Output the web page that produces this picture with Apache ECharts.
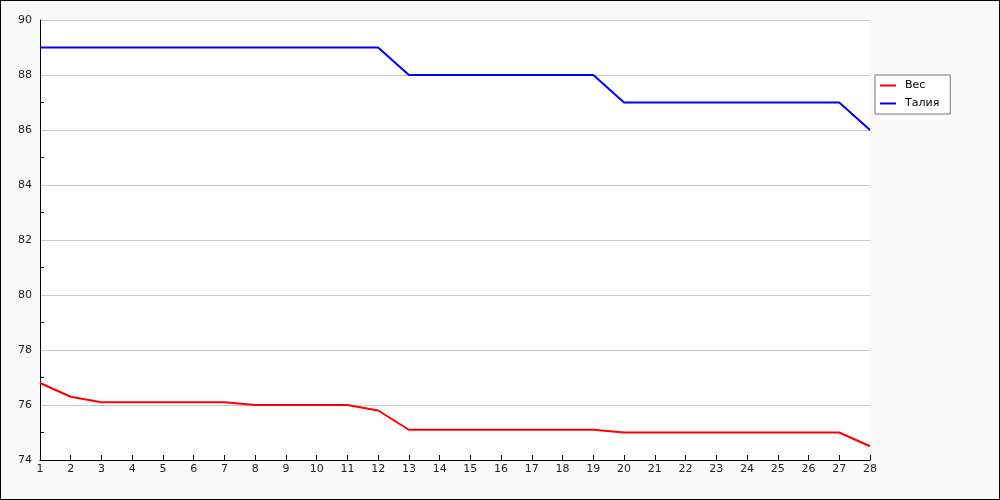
<!DOCTYPE html>
<html><head><meta charset="utf-8">
<script src="https://cdn.jsdelivr.net/npm/echarts@6/dist/echarts.min.js"></script>
<style>
html,body{margin:0;padding:0;background:#f9f9f9;}
#c{width:1000px;height:500px;box-sizing:border-box;border:1px solid #000;}
</style></head>
<body><div id="c"></div>
<script>
const days = ['1','2','3','4','5','6','7','8','9','10','11','12','13','14','15','16','17','18','19','20','21','22','23','24','25','26','27','28'];
const ves = [76.8,76.3,76.1,76.1,76.1,76.1,76.1,76.0,76.0,76.0,76.0,75.8,75.1,75.1,75.1,75.1,75.1,75.1,75.1,75.0,75.0,75.0,75.0,75.0,75.0,75.0,75.0,74.5];
const talia = [89,89,89,89,89,89,89,89,89,89,89,89,88,88,88,88,88,88,88,87,87,87,87,87,87,87,87,86];
const seriesNames = ['Вес','Талия'];

const chart = echarts.init(document.getElementById('c'));
chart.setOption({
  animation:false,
  backgroundColor:'#f9f9f9',
  grid:{left:39,right:129,top:19,bottom:39,show:true,backgroundColor:'#fff',borderWidth:0},
  legend:{
    orient:'vertical', left:874, top:74, data:seriesNames,
    backgroundColor:'#fff', borderColor:'#777', borderWidth:1, borderRadius:0,
    padding:[5,11,5,5], itemGap:7, itemWidth:16, itemHeight:2, icon:'rect',
    textStyle:{fontSize:11,color:'#000',fontFamily:'DejaVu Sans',padding:[0,0,0,4]}
  },
  xAxis:{
    type:'category', data:days, boundaryGap:false,
    axisLine:{lineStyle:{color:'#000',width:1}},
    axisTick:{inside:true,length:5,lineStyle:{color:'#000'},interval:0},
    axisLabel:{fontSize:11,color:'#222',fontFamily:'DejaVu Sans',margin:4,interval:0},
    splitLine:{show:false}
  },
  yAxis:{
    type:'value', min:74, max:90, interval:2,
    axisLine:{show:true,lineStyle:{color:'#000',width:1}},
    axisTick:{inside:true,length:5,lineStyle:{color:'#000'}},
    minorTick:{show:true,splitNumber:2,length:4,lineStyle:{color:'#000'}},
    axisLabel:{fontSize:11,color:'#222',fontFamily:'DejaVu Sans',margin:8},
    splitLine:{show:true,lineStyle:{color:'#c8c8c8',width:1}}
  },
  series:[
    {name:seriesNames[0],type:'line',data:ves,showSymbol:false,symbol:'none',lineStyle:{color:'#ff0000',width:2},itemStyle:{color:'#ff0000'}},
    {name:seriesNames[1],type:'line',data:talia,showSymbol:false,symbol:'none',lineStyle:{color:'#0000ff',width:2},itemStyle:{color:'#0000ff'}}
  ]
});
</script></body></html>
